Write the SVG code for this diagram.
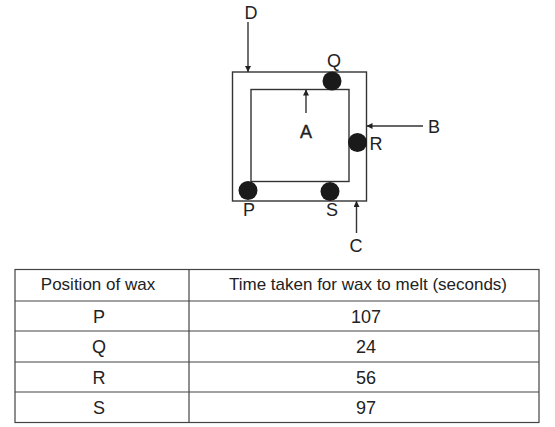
<svg xmlns="http://www.w3.org/2000/svg" width="555" height="427" viewBox="0 0 555 427">
<style>
text{font-family:"Liberation Sans",Arial,sans-serif;font-size:18px;fill:#222;text-anchor:middle}
text.hd{font-size:17px}
.ln{stroke:#333;stroke-width:1.4;fill:none}
.tb{stroke:#444;stroke-width:1.2;fill:none}
.wax{fill:#1a1a1a}
</style>
<defs>
<marker id="ah" viewBox="0 0 10 10" refX="10" refY="5" markerWidth="6" markerHeight="6" orient="auto" markerUnits="userSpaceOnUse">
<path d="M0,0 L10,5 L0,10 z" fill="#222"/>
</marker>
</defs>
<rect width="555" height="427" fill="#fff"/>
<g id="outer"><rect class="ln" x="232.5" y="72" width="134" height="129"/></g>
<g id="inner"><rect class="ln" x="251" y="89.5" width="98" height="92"/></g>
<g id="waxQ"><circle class="wax" cx="332" cy="81" r="9.5"/><text x="334" y="67">Q</text></g>
<g id="waxR"><circle class="wax" cx="357.5" cy="142.5" r="9.5"/><text x="376" y="150">R</text></g>
<g id="waxP"><circle class="wax" cx="248" cy="190.5" r="9.5"/><text x="249" y="216">P</text></g>
<g id="waxS"><circle class="wax" cx="330" cy="191.5" r="9.5"/><text x="332" y="216">S</text></g>
<g id="labels">
<text x="251" y="19">D</text>
<text x="306" y="138" style="stroke:#222;stroke-width:0.4">A</text>
<text x="434" y="133">B</text>
<text x="356" y="252">C</text>
</g>
<g id="connectors">
<line class="ln" x1="248" y1="22" x2="248" y2="72" marker-end="url(#ah)"/>
<line class="ln" x1="306" y1="113" x2="306" y2="89.5" marker-end="url(#ah)"/>
<line class="ln" x1="423" y1="126" x2="366.5" y2="126" marker-end="url(#ah)"/>
<line class="ln" x1="356.5" y1="233" x2="356.5" y2="201" marker-end="url(#ah)"/>
</g>
<g id="table">
<rect class="tb" x="15" y="269.5" width="524" height="153"/>
<line class="tb" x1="189" y1="269.5" x2="189" y2="422.5"/>
<line class="tb" x1="15" y1="301" x2="539" y2="301"/>
<line class="tb" x1="15" y1="331" x2="539" y2="331"/>
<line class="tb" x1="15" y1="362" x2="539" y2="362"/>
<line class="tb" x1="15" y1="392" x2="539" y2="392"/>
<text class="hd" x="98" y="290">Position of wax</text>
<text class="hd" x="368" y="290">Time taken for wax to melt (seconds)</text>
<text x="99" y="323">P</text><text x="366" y="323">107</text>
<text x="99" y="353">Q</text><text x="366" y="353">24</text>
<text x="99" y="384">R</text><text x="366" y="384">56</text>
<text x="99" y="414">S</text><text x="366" y="414">97</text>
</g>
</svg>
